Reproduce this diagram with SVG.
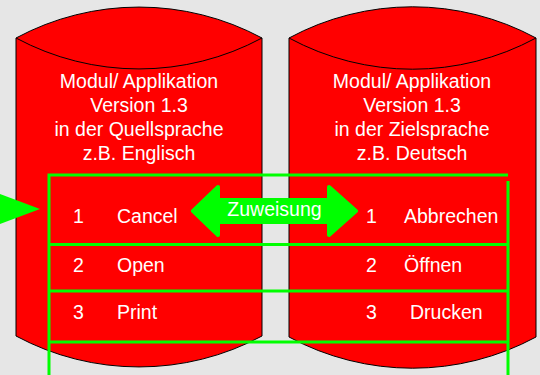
<svg xmlns="http://www.w3.org/2000/svg" width="540" height="375" viewBox="0 0 540 375">
<style>
.cyl{fill:#ff0000;stroke:#000;stroke-width:1}
.t{font-family:"Liberation Sans",Arial,sans-serif;font-size:19.5px;fill:#fff}
.c{text-anchor:middle}
.g{stroke:#00ff00;stroke-width:3;fill:none}
</style>
<rect x="0" y="0" width="540" height="375" fill="#e6e6e6"/>
<g id="cyl-left">
<path class="cyl" d="M16,38 A260,260 0 0,1 262,38 L262,336 A260,260 0 0,1 16,336 Z"/>
<path class="cyl" d="M16,38 A260,260 0 0,0 262,38" fill="none"/>
<text class="t c" x="139" y="88">Modul/ Applikation</text>
<text class="t c" x="139" y="112">Version 1.3</text>
<text class="t c" x="139" y="136">in der Quellsprache</text>
<text class="t c" x="139" y="160">z.B. Englisch</text>
</g>
<g id="cyl-right">
<path class="cyl" d="M289,38 A260,260 0 0,1 536,38 L536,337 A260,260 0 0,1 289,337 Z"/>
<path class="cyl" d="M289,38 A260,260 0 0,0 536,38" fill="none"/>
<text class="t c" x="412" y="88">Modul/ Applikation</text>
<text class="t c" x="412" y="112">Version 1.3</text>
<text class="t c" x="412" y="136">in der Zielsprache</text>
<text class="t c" x="412" y="160">z.B. Deutsch</text>
</g>
<g id="table">
<path class="g" d="M49,375 L49,175 L508,175 M508,181 L508,375 M49,244.5 L508,244.5 M49,291 L508,291 M49,342 L508,342"/>
</g>
<g id="rows">
<text class="t" x="73" y="223">1</text>
<text class="t" x="117" y="223">Cancel</text>
<text class="t" x="73" y="272">2</text>
<text class="t" x="117" y="272">Open</text>
<text class="t" x="73" y="319">3</text>
<text class="t" x="117" y="319">Print</text>
<text class="t" x="366" y="223">1</text>
<text class="t" x="404" y="223">Abbrechen</text>
<text class="t" x="366" y="272">2</text>
<text class="t" x="404" y="272">Öffnen</text>
<text class="t" x="366" y="319">3</text>
<text class="t" x="410" y="319">Drucken</text>
</g>
<g id="connectors">
<polygon points="0,194 40,209 0,224" fill="#00ff00"/>
<polygon points="193,211 218,187 218,200 329,200 329,187 356,211 329,235 329,222 218,222 218,235" fill="#00ff00" stroke="#00ff00" stroke-width="4" stroke-linejoin="round"/>
<text class="t c" x="274.5" y="216">Zuweisung</text>
</g>
</svg>
